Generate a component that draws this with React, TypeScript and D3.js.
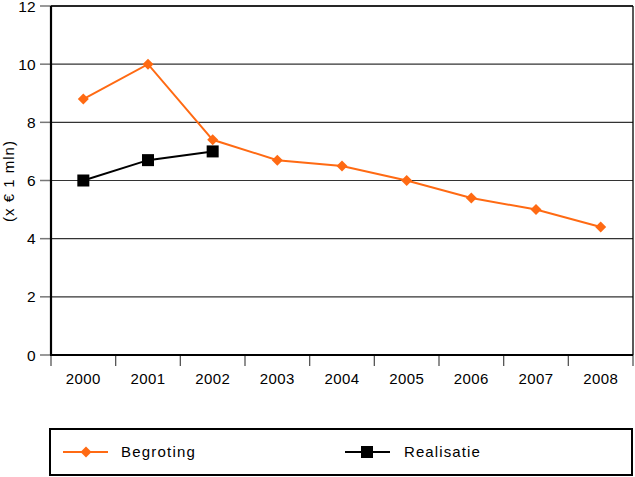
import React from "react";
import * as d3 from "d3";

const years = ["2000", "2001", "2002", "2003", "2004", "2005", "2006", "2007", "2008"];
const begroting = [8.8, 10.0, 7.4, 6.7, 6.5, 6.0, 5.4, 5.0, 4.4];
const realisatieYears = ["2000", "2001", "2002"];
const realisatie = [6.0, 6.7, 7.0];
const yTicks = [0, 2, 4, 6, 8, 10, 12];

const W = 635;
const H = 477;
const left = 51;
const right = 633;
const top = 6;
const bottom = 355;
const ORANGE = "#ff6a13";
const FONT = "'Liberation Sans', Arial, sans-serif";

export default function App() {
  const x = d3.scaleBand<string>().domain(years).range([left, right]);
  const y = d3.scaleLinear().domain([0, 12]).range([bottom, top]);
  const cx = (d: string) => (x(d) as number) + x.bandwidth() / 2;

  const line = d3.line<[number, number]>().x((d) => d[0]).y((d) => d[1]);
  const bPts: [number, number][] = years.map((yr, i) => [cx(yr), y(begroting[i])]);
  const rPts: [number, number][] = realisatieYears.map((yr, i) => [cx(yr), y(realisatie[i])]);

  const diamond = (px: number, py: number, r = 5.5) =>
    `M${px},${py - r}L${px + r},${py}L${px},${py + r}L${px - r},${py}Z`;

  const boundaries = years.map((yr) => x(yr) as number).concat([right]);

  return (
    <svg width={W} height={H} style={{ position: "absolute", left: 0, top: 0 }} fontFamily={FONT}>
      <rect x={0} y={0} width={W} height={H} fill="#fff" />
      {/* gridlines */}
      {yTicks.filter((t) => t > 0).map((t) => (
        <line key={"g" + t} x1={left} x2={right} y1={y(t)} y2={y(t)} stroke="#333" strokeWidth={1.2} />
      ))}
      {/* y ticks */}
      {yTicks.map((t) => (
        <g key={"yt" + t}>
          <line x1={40} x2={left} y1={y(t)} y2={y(t)} stroke="#777" strokeWidth={1.5} />
          <text x={36} y={y(t)} dy="0.36em" textAnchor="end" fontSize={15.5} letterSpacing={0.3} fill="#000">
            {t}
          </text>
        </g>
      ))}
      {/* x ticks */}
      {boundaries.map((b, i) => (
        <line key={"xt" + i} x1={b} x2={b} y1={bottom} y2={bottom + 11} stroke="#555" strokeWidth={1.3} />
      ))}
      {years.map((yr) => (
        <text key={"xl" + yr} x={cx(yr)} y={384} textAnchor="middle" fontSize={15} letterSpacing={0.4} fill="#000">
          {yr}
        </text>
      ))}
      {/* frame */}
      <line x1={left} x2={left} y1={top} y2={bottom} stroke="#000" strokeWidth={2.2} />
      <line x1={right} x2={right} y1={top} y2={bottom} stroke="#000" strokeWidth={1.3} />
      <line x1={left} x2={right} y1={top} y2={top} stroke="#000" strokeWidth={1.5} />
      <line x1={left - 1} x2={right} y1={bottom} y2={bottom} stroke="#000" strokeWidth={2} />
      {/* y title */}
      <text
        transform={`translate(13.5,${181}) rotate(-90)`}
        textAnchor="middle"
        fontSize={15}
        letterSpacing={1}
        fill="#000"
      >
        (x € 1 mln)
      </text>
      {/* series */}
      <path d={line(bPts) || ""} fill="none" stroke={ORANGE} strokeWidth={2} />
      {bPts.map((p, i) => (
        <path key={"bd" + i} d={diamond(p[0], p[1])} fill={ORANGE} />
      ))}
      <path d={line(rPts) || ""} fill="none" stroke="#000" strokeWidth={2} />
      {rPts.map((p, i) => (
        <rect key={"rs" + i} x={p[0] - 6} y={p[1] - 6} width={12} height={12} fill="#000" />
      ))}
      {/* legend */}
      <rect x={50} y={429} width={582} height={46} fill="none" stroke="#000" strokeWidth={2} />
      <line x1={63} x2={108} y1={452} y2={452} stroke={ORANGE} strokeWidth={2} />
      <path d={diamond(86, 452)} fill={ORANGE} />
      <text x={121} y={452} dy="0.36em" fontSize={15} letterSpacing={1.2} fill="#000">
        Begroting
      </text>
      <line x1={345} x2={390} y1={452} y2={452} stroke="#000" strokeWidth={2} />
      <rect x={361} y={446} width={12} height={12} fill="#000" />
      <text x={404} y={452} dy="0.36em" fontSize={15} letterSpacing={1.1} fill="#000">
        Realisatie
      </text>
    </svg>
  );
}
